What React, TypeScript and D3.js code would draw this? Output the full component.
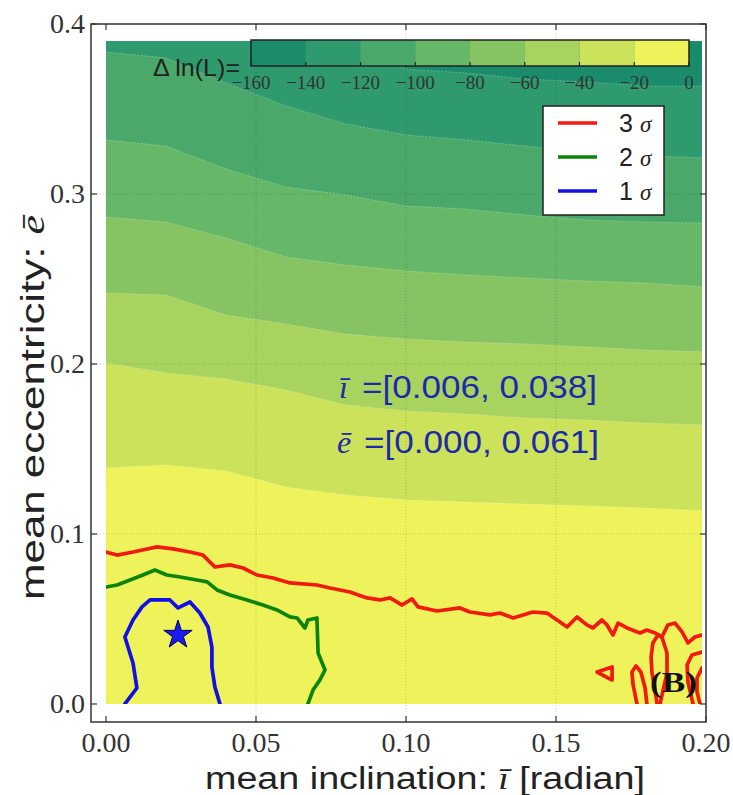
import React from 'react';
import * as d3 from 'd3';

// ---------- data ----------
const xGrid = [0, 0.02, 0.04, 0.06, 0.08, 0.10, 0.12, 0.14, 0.16, 0.18, 0.20];
// contour boundaries of Δ ln(L) (y value of level line at each xGrid)
const bound140 = [0.3965, 0.3953, 0.3941, 0.3929, 0.3918, 0.3735, 0.3712, 0.3676, 0.3659, 0.3635, 0.3635];
const bound120 = [0.3835, 0.3800, 0.3653, 0.3518, 0.3412, 0.3347, 0.3318, 0.3282, 0.3241, 0.3224, 0.3212];
const bound100 = [0.3318, 0.3282, 0.3147, 0.3041, 0.2994, 0.2929, 0.2912, 0.2876, 0.2847, 0.2835, 0.2829];
const bound80 = [0.2865, 0.2835, 0.2741, 0.2629, 0.2582, 0.2547, 0.2524, 0.2506, 0.2488, 0.2476, 0.2453];
const bound60 = [0.2418, 0.2406, 0.2288, 0.2235, 0.2176, 0.2147, 0.2129, 0.2118, 0.2100, 0.2082, 0.2071];
const bound40 = [0.2006, 0.1947, 0.1912, 0.1847, 0.1759, 0.1724, 0.1706, 0.1682, 0.1671, 0.1653, 0.1641];
const bound20 = [0.1388, 0.1406, 0.1371, 0.1276, 0.1229, 0.1200, 0.1188, 0.1176, 0.1165, 0.1153, 0.1135];

const dataXMax = 0.1987;
const dataYMax = 0.39;

const levels = [-160, -140, -120, -100, -80, -60, -40, -20, 0];
const xTicks = [0, 0.05, 0.10, 0.15, 0.20];
const yTicks = [0, 0.1, 0.2, 0.3, 0.4];

// 3 sigma contour
const sigma3X = [0.0000, 0.0037, 0.0090, 0.0137, 0.0170, 0.0223, 0.0280, 0.0323, 0.0363, 0.0413, 0.0457, 0.0503, 0.0557, 0.0613, 0.0703, 0.0747, 0.0813, 0.0870, 0.0913, 0.0947, 0.0987, 0.1020, 0.1040, 0.1103, 0.1180, 0.1213, 0.1280, 0.1313, 0.1357, 0.1423, 0.1470, 0.1537, 0.1570, 0.1603, 0.1623, 0.1653, 0.1670, 0.1690, 0.1707, 0.1737, 0.1780, 0.1803, 0.1830, 0.1853, 0.1873, 0.1897, 0.1920, 0.1940, 0.1963, 0.1987];
const sigma3Y = [0.0894, 0.0876, 0.0894, 0.0912, 0.0924, 0.0912, 0.0894, 0.0876, 0.0806, 0.0818, 0.0800, 0.0759, 0.0741, 0.0712, 0.0700, 0.0682, 0.0659, 0.0624, 0.0612, 0.0624, 0.0582, 0.0618, 0.0571, 0.0547, 0.0565, 0.0541, 0.0524, 0.0535, 0.0506, 0.0541, 0.0535, 0.0453, 0.0512, 0.0465, 0.0447, 0.0494, 0.0465, 0.0406, 0.0476, 0.0447, 0.0418, 0.0435, 0.0418, 0.0394, 0.0465, 0.0476, 0.0424, 0.0359, 0.0394, 0.0406];
const sigma3LoopX = [0.1837, 0.1830, 0.1820, 0.1817, 0.1823, 0.1840, 0.1853, 0.1870, 0.1870, 0.1857, 0.1847];
const sigma3LoopY = [0.0, 0.0082, 0.0182, 0.0276, 0.0359, 0.0406, 0.0394, 0.0300, 0.0182, 0.0082, 0.0];
const sigma3ArchX = [0.1770, 0.1757, 0.1753, 0.1767, 0.1783, 0.1797, 0.1803];
const sigma3ArchY = [0.0, 0.0112, 0.0188, 0.0224, 0.0188, 0.0094, 0.0];
const sigma3IslandX = [0.1637, 0.1687, 0.1687, 0.1637];
const sigma3IslandY = [0.0188, 0.0218, 0.0141, 0.0188];
const sigma3EdgeAX = [0.1987, 0.1953, 0.1937, 0.1940, 0.1957];
const sigma3EdgeAY = [0.0306, 0.0288, 0.0229, 0.0129, 0.0];
const sigma3EdgeBX = [0.1987, 0.1970, 0.1970, 0.1980];
const sigma3EdgeBY = [0.0212, 0.0153, 0.0071, 0.0];

// 2 sigma contour
const sigma2X = [0.0, 0.0037, 0.0080, 0.0123, 0.0163, 0.0203, 0.0247, 0.0303, 0.0337, 0.0370, 0.0413, 0.0470, 0.0523, 0.0570, 0.0613, 0.0637, 0.0663, 0.0673, 0.0703, 0.0707, 0.0730, 0.0713, 0.0690, 0.0673];
const sigma2Y = [0.0688, 0.0700, 0.0729, 0.0759, 0.0788, 0.0759, 0.0747, 0.0729, 0.0718, 0.0671, 0.0641, 0.0612, 0.0582, 0.0553, 0.0512, 0.0506, 0.0447, 0.0494, 0.0506, 0.0300, 0.0200, 0.0141, 0.0082, 0.0];

// 1 sigma contour
const sigma1X = [0.0063, 0.0103, 0.0090, 0.0063, 0.0090, 0.0120, 0.0147, 0.0213, 0.0240, 0.0280, 0.0313, 0.0340, 0.0353, 0.0353, 0.0363, 0.0380];
const sigma1Y = [0.0, 0.0094, 0.0241, 0.0394, 0.0494, 0.0571, 0.0612, 0.0612, 0.0565, 0.0600, 0.0535, 0.0453, 0.0335, 0.0218, 0.0100, 0.0];

const bestFit = [0.024, 0.0406];

// ---------- styles ----------
const bandColors = ['#1a8c6c', '#2e9a6d', '#4aa96a', '#66b767', '#86c463', '#a9d35f', '#cce25b', '#eef35c'];
const SANS = '"Liberation Sans", Arial, Helvetica, sans-serif';
const SERIF = '"Liberation Serif", "Times New Roman", serif';

export default function App() {
  const W = 733, H = 795;
  const x = d3.scaleLinear().domain([-0.005, 0.2]).range([91, 706]);
  const y = d3.scaleLinear().domain([-0.0106, 0.4]).range([722, 24]);

  const boundaries = [bound140, bound120, bound100, bound80, bound60, bound40, bound20];
  const area = d3.area<number>()
    .x((_, i) => x(xGrid[i]))
    .y0(y(0))
    .y1((d) => y(d));
  const bline = d3.line<number>()
    .x((_, i) => x(xGrid[i]))
    .y((d) => y(d));
  const pline = d3.line<[number, number]>().x((d) => x(d[0])).y((d) => y(d[1]));
  const zip = (xs: number[], ys: number[]) => xs.map((v, i) => [v, ys[i]] as [number, number]);

  const dx0 = x(0), dx1 = x(dataXMax), dy0 = y(dataYMax), dy1 = y(0);

  const frame = { l: 91, r: 706, t: 24, b: 722 };

  const cb = d3.scaleLinear().domain([-160, 0]).range([251, 689]);
  const cbTop = 40, cbBot = 66;

  const star = d3.symbol().type(d3.symbolStar).size(250)();

  const sigmaLines: { pts: [number, number][]; color: string }[] = [
    { pts: zip(sigma3X, sigma3Y), color: '#f01a10' },
    { pts: zip(sigma3LoopX, sigma3LoopY), color: '#f01a10' },
    { pts: zip(sigma3ArchX, sigma3ArchY), color: '#f01a10' },
    { pts: zip(sigma3IslandX, sigma3IslandY), color: '#f01a10' },
    { pts: zip(sigma3EdgeAX, sigma3EdgeAY), color: '#f01a10' },
    { pts: zip(sigma3EdgeBX, sigma3EdgeBY), color: '#f01a10' },
    { pts: zip(sigma2X, sigma2Y), color: '#0a850a' },
    { pts: zip(sigma1X, sigma1Y), color: '#1010e6' },
  ];

  const legendItems = [
    { label: '3', color: '#f01a10' },
    { label: '2', color: '#0a850a' },
    { label: '1', color: '#1010e6' },
  ];

  return (
    <svg width={W} height={H} style={{ position: 'absolute', left: 0, top: 0, background: '#fff' }}>
      <defs>
        <clipPath id="dataClip">
          <rect x={dx0} y={dy0} width={dx1 - dx0} height={dy1 - dy0} />
        </clipPath>
      </defs>
      <rect x={0} y={0} width={W} height={H} fill="#fff" />

      {/* filled contour bands */}
      <g clipPath="url(#dataClip)">
        <rect x={dx0} y={dy0} width={dx1 - dx0} height={dy1 - dy0} fill={bandColors[0]} />
        {boundaries.map((b, i) => (
          <path key={'a' + i} d={area(b) || ''} fill={bandColors[i + 1]} />
        ))}
        {boundaries.map((b, i) => (
          <path key={'s' + i} d={bline(b) || ''} fill="none" stroke="#ffffff" strokeOpacity={0.35} strokeWidth={0.8} strokeDasharray="2,1.5" />
        ))}
      </g>

      {/* grid */}
      <g stroke="#000" strokeOpacity={0.18} strokeWidth={1} strokeDasharray="1,2">
        {xTicks.slice(1, -1).map((t) => (
          <line key={'gx' + t} x1={x(t)} x2={x(t)} y1={frame.t} y2={frame.b} />
        ))}
        {yTicks.slice(1, -1).map((t) => (
          <line key={'gy' + t} x1={frame.l} x2={frame.r} y1={y(t)} y2={y(t)} />
        ))}
      </g>

      {/* sigma contours */}
      <g clipPath="url(#dataClip)" fill="none" strokeWidth={3.7} strokeLinejoin="round" strokeLinecap="round">
        {sigmaLines.map((s, i) => (
          <path key={'c' + i} d={pline(s.pts) || ''} stroke={s.color} />
        ))}
      </g>

      {/* best-fit star */}
      <path d={star || ''} transform={`translate(${x(bestFit[0])},${y(bestFit[1])})`} fill="#1a1aee" stroke="#000050" strokeWidth={1} />

      {/* frame + ticks */}
      <rect x={frame.l} y={frame.t} width={frame.r - frame.l} height={frame.b - frame.t} fill="none" stroke="#333" strokeWidth={1.5} />
      <g stroke="#333" strokeWidth={1.2}>
        {xTicks.map((t) => (
          <g key={'tx' + t}>
            <line x1={x(t)} x2={x(t)} y1={frame.b} y2={frame.b - 6} />
            <line x1={x(t)} x2={x(t)} y1={frame.t} y2={frame.t + 6} />
          </g>
        ))}
        {yTicks.map((t) => (
          <g key={'ty' + t}>
            <line x1={frame.l} x2={frame.l + 6} y1={y(t)} y2={y(t)} />
            <line x1={frame.r} x2={frame.r - 6} y1={y(t)} y2={y(t)} />
          </g>
        ))}
      </g>
      <g fontFamily={SERIF} fontSize={28} fill="#333">
        {xTicks.map((t) => (
          <text key={'lx' + t} x={x(t)} y={752} textAnchor="middle">{t.toFixed(2)}</text>
        ))}
        {yTicks.map((t) => (
          <text key={'ly' + t} x={85} y={y(t)} dy="0.33em" textAnchor="end">{t.toFixed(1)}</text>
        ))}
      </g>

      {/* axis labels */}
      <text x={205} y={789} textLength={440} lengthAdjust="spacingAndGlyphs" fontFamily={SANS} fontSize={31} fill="#222">
        mean inclination: <tspan fontFamily={SERIF} fontStyle="italic">ī</tspan> [radian]
      </text>
      <text transform="translate(44,600) rotate(-90)" textLength={385} lengthAdjust="spacingAndGlyphs" fontFamily={SANS} fontSize={33} fill="#222">
        mean eccentricity: <tspan fontFamily={SERIF} fontStyle="italic">ē</tspan>
      </text>

      {/* colorbar */}
      <g>
        {levels.slice(0, -1).map((lv, i) => (
          <rect key={'cb' + i} x={cb(lv)} y={cbTop} width={cb(levels[i + 1]) - cb(lv)} height={cbBot - cbTop} fill={bandColors[i]} />
        ))}
        <rect x={cb(-160)} y={cbTop} width={cb(0) - cb(-160)} height={cbBot - cbTop} fill="none" stroke="#222" strokeWidth={1.5} />
        <g stroke="#222" strokeWidth={1.2}>
          {levels.map((lv) => (
            <line key={'cbt' + lv} x1={cb(lv)} x2={cb(lv)} y1={cbBot} y2={cbBot - 4} />
          ))}
        </g>
        <g fontFamily={SERIF} fontSize={19} fill="#333" textAnchor="middle">
          {levels.map((lv) => (
            <text key={'cbl' + lv} x={cb(lv)} y={89}>{lv < 0 ? '\u2212' + Math.abs(lv) : String(lv)}</text>
          ))}
        </g>
        <text x={153} y={76} textLength={87} lengthAdjust="spacingAndGlyphs" fontFamily={SANS} fontSize={24} fill="#222">Δ ln(L)=</text>
      </g>

      {/* legend */}
      <g>
        <rect x={543} y={106} width={121} height={109} fill="#fff" stroke="#222" strokeWidth={1.5} />
        {legendItems.map((it, i) => (
          <g key={'lg' + i}>
            <line x1={558} x2={597} y1={123 + i * 34} y2={123 + i * 34} stroke={it.color} strokeWidth={3.5} />
            <text x={619} y={123 + i * 34 + 9} fontFamily={SANS} fontSize={25} fill="#222">
              {it.label}
              <tspan dx={7} fontFamily={SERIF} fontStyle="italic" fontSize={23}>σ</tspan>
            </text>
          </g>
        ))}
      </g>

      {/* annotations */}
      <g fill="#1c2aa8">
        <text x={339} y={398} fontFamily={SERIF} fontStyle="italic" fontSize={32}>ī</text>
        <text x={362} y={398} textLength={235} lengthAdjust="spacingAndGlyphs" fontFamily={SANS} fontSize={32}>=[0.006, 0.038]</text>
        <text x={337} y={453} fontFamily={SERIF} fontStyle="italic" fontSize={32}>ē</text>
        <text x={364} y={453} textLength={235} lengthAdjust="spacingAndGlyphs" fontFamily={SANS} fontSize={32}>=[0.000, 0.061]</text>
      </g>

      <text x={650} y={692} textLength={47} lengthAdjust="spacingAndGlyphs" fontFamily={SERIF} fontWeight="bold" fontSize={29} fill="#111">(B)</text>
    </svg>
  );
}
